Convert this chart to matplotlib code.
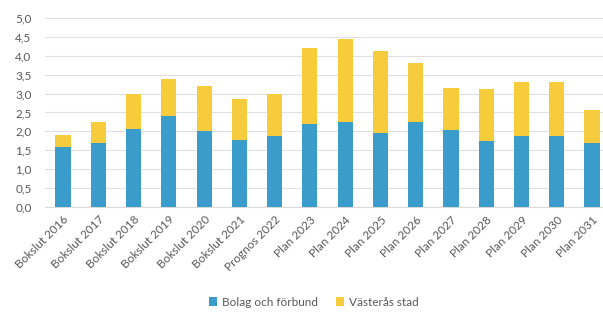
import matplotlib
matplotlib.use("Agg")
import matplotlib.pyplot as plt
from matplotlib.ticker import FuncFormatter, MultipleLocator

plt.rcParams['font.family'] = ['Lato', 'DejaVu Sans']

labels = ["Bokslut 2016", "Bokslut 2017", "Bokslut 2018", "Bokslut 2019",
          "Bokslut 2020", "Bokslut 2021", "Prognos 2022", "Plan 2023",
          "Plan 2024", "Plan 2025", "Plan 2026", "Plan 2027",
          "Plan 2028", "Plan 2029", "Plan 2030", "Plan 2031"]

bolag = [1.58, 1.68, 2.06, 2.41, 2.02, 1.77, 1.88, 2.20,
         2.26, 1.97, 2.26, 2.04, 1.75, 1.88, 1.87, 1.70]

totals = [1.91, 2.26, 2.98, 3.38, 3.20, 2.87, 2.98, 4.20,
          4.44, 4.13, 3.80, 3.14, 3.11, 3.31, 3.30, 2.57]

stad = [t - b for t, b in zip(totals, bolag)]

blue = "#3a9cca"
yellow = "#f6cb3c"
gray = "#595959"

fig = plt.figure(figsize=(6.03, 3.14), dpi=100)
ax = fig.add_axes([45.4 / 603, 107 / 314, (603 - 45.4) / 603, 189 / 314])

x = range(len(labels))
ax.bar(x, bolag, width=0.43, color=blue, label="Bolag och förbund", zorder=3)
ax.bar(x, stad, width=0.43, bottom=bolag, color=yellow, label="Västerås stad", zorder=3)

ax.set_ylim(0, 5.0)
ax.set_xlim(-0.5, 15.31)
ax.yaxis.set_major_locator(MultipleLocator(0.5))
ax.yaxis.set_major_formatter(FuncFormatter(lambda v, p: f"{v:.1f}".replace(".", ",")))
ax.grid(axis="y", color="#e0e0e0", linewidth=0.8, zorder=0)

for s in ["top", "right", "left"]:
    ax.spines[s].set_visible(False)
ax.spines["bottom"].set_color("#d9d9d9")

ax.set_xticks(list(x))
ax.set_xticklabels(labels, rotation=45, ha="right", rotation_mode="anchor")
ax.tick_params(axis="both", length=0, colors=gray, labelsize=8.5)
ax.tick_params(axis="x", pad=5)
ax.tick_params(axis="y", pad=10)

fig.legend(loc="center", bbox_to_anchor=(0.52, 0.038), ncol=2, frameon=False,
           fontsize=8.5, handlelength=0.7, handleheight=0.7, columnspacing=1.5,
           handletextpad=0.4, labelcolor=gray)

fig.savefig("out.png", dpi=100)
